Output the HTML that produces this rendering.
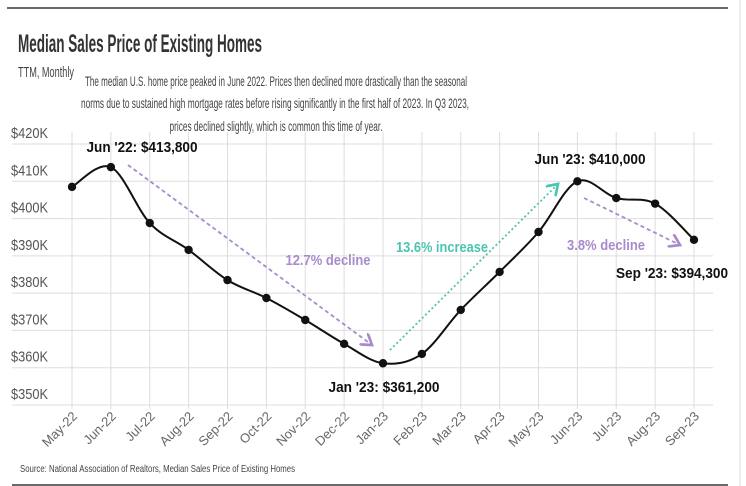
<!DOCTYPE html>
<html><head><meta charset="utf-8"><style>
html,body{margin:0;padding:0;background:#fff;}
svg{display:block;font-family:"Liberation Sans Narrow","Liberation Sans",sans-serif;}
</style></head><body>
<svg id="chart" width="746" height="486" viewBox="0 0 746 486">
<line x1="7" y1="8" x2="728" y2="8" stroke="#111" stroke-width="1.2"/>
<line x1="740" y1="0" x2="740" y2="486" stroke="#ddd"/>
<line x1="12" y1="485" x2="728" y2="485" stroke="#111" stroke-width="1.2"/>
<text x="18" y="52" font-size="25" font-weight="bold" fill="#333" textLength="244" lengthAdjust="spacingAndGlyphs">Median Sales Price of Existing Homes</text>
<text x="18" y="77" font-size="15" fill="#444" textLength="56" lengthAdjust="spacingAndGlyphs">TTM, Monthly</text>
<g fill="#444" font-size="14" text-anchor="middle">
<text x="276" y="86" textLength="382" lengthAdjust="spacingAndGlyphs">The median U.S. home price peaked in June 2022. Prices then declined more drastically than the seasonal</text>
<text x="275" y="108" textLength="388" lengthAdjust="spacingAndGlyphs">norms due to sustained high mortgage rates before rising significantly in the first half of 2023. In Q3 2023,</text>
<text x="276" y="131" textLength="213" lengthAdjust="spacingAndGlyphs">prices declined slightly, which is common this time of year.</text>
</g>
<g id="grid"></g><g id="yaxis"></g><g id="xaxis"></g><g id="marks"></g>
<g>
<defs>
<marker id="ap" markerWidth="8" markerHeight="8" refX="6" refY="4" orient="auto"><path d="M0,0 L6,4 L0,8" fill="none" stroke="#a98bcb" stroke-width="1.5"/></marker>
<marker id="at" markerWidth="8" markerHeight="8" refX="6" refY="4" orient="auto"><path d="M0,0 L6,4 L0,8" fill="none" stroke="#4cc5b0" stroke-width="1.5"/></marker>
</defs>
<line x1="128" y1="165" x2="372" y2="345" stroke="#a98bcb" stroke-width="1.8" stroke-dasharray="4,3" marker-end="url(#ap)"/>
<line x1="390" y1="350" x2="558" y2="184" stroke="#4cc5b0" stroke-width="1.8" stroke-dasharray="2,2.5" marker-end="url(#at)"/>
<line x1="584" y1="198" x2="680" y2="245" stroke="#a98bcb" stroke-width="1.8" stroke-dasharray="4,3" marker-end="url(#ap)"/>
<text x="328" y="265" font-size="15" font-weight="bold" fill="#a98bcb" text-anchor="middle" textLength="85" lengthAdjust="spacingAndGlyphs">12.7% decline</text>
<text x="442" y="252" font-size="15" font-weight="bold" fill="#4cc5b0" text-anchor="middle" textLength="92" lengthAdjust="spacingAndGlyphs">13.6% increase</text>
<text x="606" y="250" font-size="15" font-weight="bold" fill="#a98bcb" text-anchor="middle" textLength="78" lengthAdjust="spacingAndGlyphs">3.8% decline</text>
<text x="142" y="152" font-size="15" font-weight="bold" fill="#111" text-anchor="middle" textLength="111" lengthAdjust="spacingAndGlyphs">Jun '22: $413,800</text>
<text x="384" y="392" font-size="15" font-weight="bold" fill="#111" text-anchor="middle" textLength="111" lengthAdjust="spacingAndGlyphs">Jan '23: $361,200</text>
<text x="590" y="164" font-size="15" font-weight="bold" fill="#111" text-anchor="middle" textLength="111" lengthAdjust="spacingAndGlyphs">Jun '23: $410,000</text>
<text x="672" y="278" font-size="15" font-weight="bold" fill="#111" text-anchor="middle" textLength="112" lengthAdjust="spacingAndGlyphs">Sep '23: $394,300</text>
</g>
<text x="20" y="472" font-size="10" fill="#444" textLength="275" lengthAdjust="spacingAndGlyphs">Source:  National Association of Realtors, Median Sales Price of Existing Homes</text>
</svg>
<script>
const categories=["May-22","Jun-22","Jul-22","Aug-22","Sep-22","Oct-22","Nov-22","Dec-22","Jan-23","Feb-23","Mar-23","Apr-23","May-23","Jun-23","Jul-23","Aug-23","Sep-23"];
const prices=[408.5,413.8,398.8,391.6,383.5,378.7,372.8,366.4,361.2,363.7,375.5,385.7,396.4,410.0,405.5,404.0,394.3];
const yTicks=[350,360,370,380,390,400,410,420];
const yTickLabels=["$350K","$360K","$370K","$380K","$390K","$400K","$410K","$420K"];
const NS="http://www.w3.org/2000/svg";
const X0=72,X1=694,Y0=405,Y1=144,VMIN=350,VMAX=420;
function xs(i){return X0+(X1-X0)*i/(categories.length-1);}
function ys(v){return Y0-(v-VMIN)/(VMAX-VMIN)*(Y0-Y1);}
function mk(tag,attrs,parent){const e=document.createElementNS(NS,tag);for(const k in attrs)e.setAttribute(k,attrs[k]);parent.appendChild(e);return e;}
const grid=document.getElementById('grid'),ya=document.getElementById('yaxis'),xa=document.getElementById('xaxis'),marks=document.getElementById('marks');
yTicks.forEach((t,i)=>{
  const l=mk('line',{x1:12,x2:713,y1:ys(t),y2:ys(t),stroke:'#ddd'},grid);
  
  
  const tx=mk('text',{x:11,y:ys(t)-6,'font-size':15,fill:'#555',textLength:37,lengthAdjust:'spacingAndGlyphs'},ya);
  tx.textContent=yTickLabels[i];
  
  
});
categories.forEach((c,i)=>{
  const x=xs(i);
  const l=mk('line',{x1:x,x2:x,y1:Y1-12,y2:Y0+4,stroke:'#ddd'},grid);
  
  
  const tx=mk('text',{x:x+6,y:Y0+12,'font-size':13,fill:'#666','text-anchor':'end',transform:`rotate(-45 ${x+6} ${Y0+12})`},xa);
  tx.textContent=c;
  
  
});
const pts=prices.map((v,i)=>[xs(i),ys(v)]);
let d=`M${pts[0][0]},${pts[0][1]}`;
for(let i=0;i<pts.length-1;i++){
  const p0=pts[Math.max(0,i-1)],p1=pts[i],p2=pts[i+1],p3=pts[Math.min(pts.length-1,i+2)];
  const t=0.5/3;
  d+=` C${p1[0]+(p2[0]-p0[0])*t},${p1[1]+(p2[1]-p0[1])*t} ${p2[0]-(p3[0]-p1[0])*t},${p2[1]-(p3[1]-p1[1])*t} ${p2[0]},${p2[1]}`;
}
const path=mk('path',{d:d,fill:'none',stroke:'#111','stroke-width':2},marks);


pts.forEach(p=>{
  const c=mk('circle',{cx:p[0],cy:p[1],r:4.2,fill:'#111'},marks);
  
  
});
</script>
</body></html>
